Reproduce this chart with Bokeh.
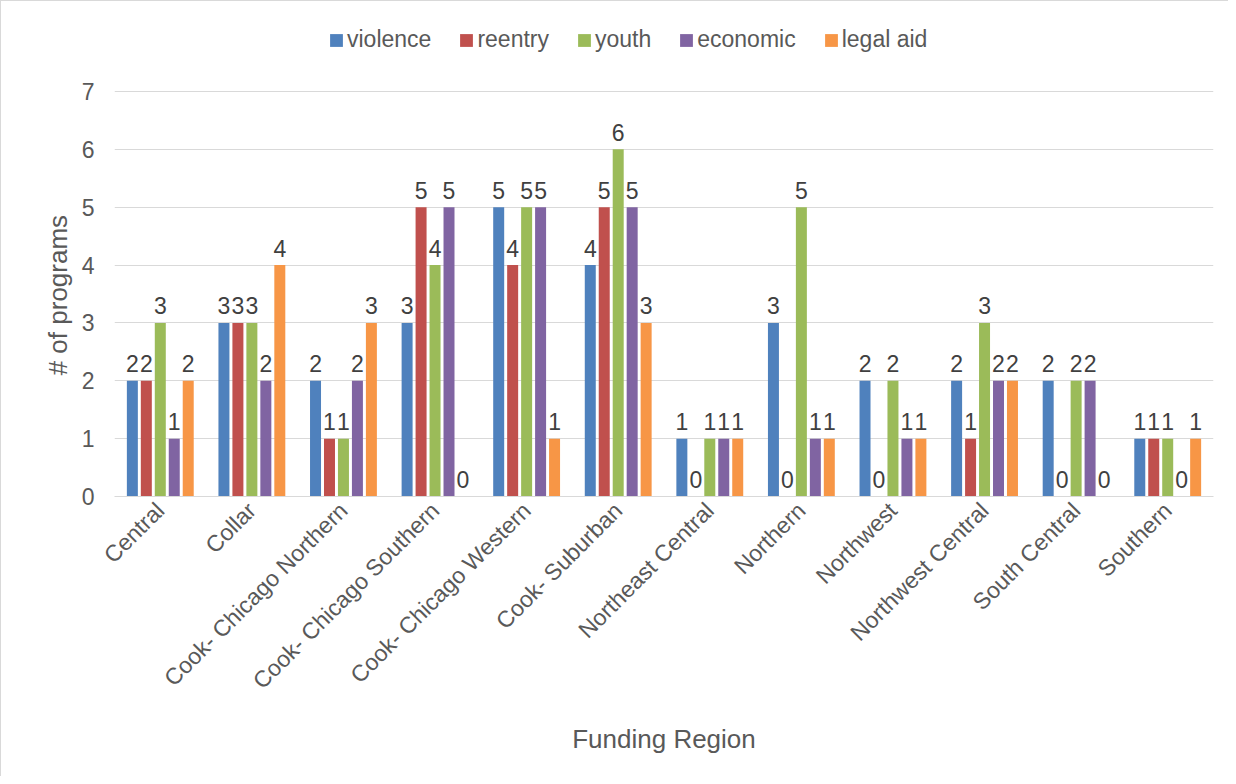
import math
from bokeh.plotting import figure
from bokeh.models import FactorRange, Range1d, FixedTicker, Legend, LegendItem, ColumnDataSource
from bokeh.transform import dodge
from bokeh.core.properties import value
from bokeh.embed import file_html
from bokeh.resources import INLINE

regions = ["Central", "Collar", "Cook- Chicago Northern", "Cook- Chicago Southern",
           "Cook- Chicago Western", "Cook- Suburban", "Northeast Central", "Northern",
           "Northwest", "Northwest Central", "South Central", "Southern"]
violence = [2, 3, 2, 3, 5, 4, 1, 3, 2, 2, 2, 1]
reentry = [2, 3, 1, 5, 4, 5, 0, 0, 0, 1, 0, 1]
youth = [3, 3, 1, 4, 5, 6, 1, 5, 2, 3, 2, 1]
economic = [1, 2, 2, 5, 5, 5, 1, 1, 1, 2, 2, 0]
legal_aid = [2, 4, 3, 0, 1, 3, 1, 1, 1, 2, 0, 1]
series_names = ["violence", "reentry", "youth", "economic", "legal aid"]
series_values = [violence, reentry, youth, economic, legal_aid]
colors = ["#4F81BD", "#C0504D", "#9BBB59", "#8064A2", "#F79646"]
y_ticks = [0, 1, 2, 3, 4, 5, 6, 7]
y_title = "# of programs"
x_title = "Funding Region"

FONT = "Liberation Sans"

data = {"region": regions}
for i, vals in enumerate(series_values):
    data["s%d" % i] = vals
    data["t%d" % i] = [str(v) for v in vals]
source = ColumnDataSource(data)

# frame extends up to hold the legend; axis max 7 sits 70px below the frame top
frame_h = 475
y_top = 7 * frame_h / 405.0

p = figure(x_range=FactorRange(*regions), y_range=Range1d(0, y_top),
           width=1228, height=776, output_backend="svg", toolbar_location=None,
           min_border_left=113, min_border_right=16, min_border_top=20, min_border_bottom=281)
p.styles = {"border-left": "1px solid #d9d9d9", "border-top": "1px solid #d9d9d9"}
p.outline_line_color = None
p.background_fill_color = "white"

pitch = 0.1525
bw = 0.12
items = []
for i, name in enumerate(series_names):
    off = (i - 2) * pitch
    r = p.vbar(x=dodge("region", off, range=p.x_range), top="s%d" % i, width=bw,
               source=source, fill_color=colors[i], line_color=None)
    items.append(LegendItem(label=name, renderers=[r]))
    p.text(x=dodge("region", off, range=p.x_range), y="s%d" % i, text="t%d" % i,
           source=source, text_align="center", text_baseline="alphabetic",
           y_offset=-17, text_font=value(FONT), text_font_size="23px",
           text_color="#404040")

legend = Legend(items=items, orientation="horizontal", location=(214, 443),
                padding=0, margin=0, spacing=27, label_standoff=3,
                glyph_width=16, glyph_height=16, label_height=22,
                label_text_font=FONT, label_text_font_size="23px",
                label_text_color="#595959", border_line_color=None,
                background_fill_alpha=0)
p.add_layout(legend, "center")

p.ygrid.grid_line_color = "#d9d9d9"
p.ygrid.ticker = FixedTicker(ticks=y_ticks)
p.xgrid.grid_line_color = None

p.yaxis.ticker = FixedTicker(ticks=y_ticks)
p.yaxis.axis_line_color = None
p.yaxis.major_tick_line_color = None
p.yaxis.minor_tick_line_color = None
p.yaxis.major_tick_out = 0
p.yaxis.major_label_standoff = 20
p.yaxis.major_label_text_font = FONT
p.yaxis.major_label_text_font_size = "23px"
p.yaxis.major_label_text_color = "#595959"
# trailing no-break spaces keep the title centred on the 0..7 span, not on the taller frame
p.yaxis.axis_label = y_title + "\u00a0" * 10
p.yaxis.axis_label_text_font = FONT
p.yaxis.axis_label_text_font_size = "26px"
p.yaxis.axis_label_text_font_style = "normal"
p.yaxis.axis_label_text_color = "#595959"
p.yaxis.axis_label_standoff = 6

p.xaxis.axis_line_color = "#d9d9d9"
p.xaxis.major_tick_line_color = None
p.xaxis.minor_tick_line_color = None
p.xaxis.major_tick_out = 0
p.xaxis.major_label_orientation = math.pi / 4
p.xaxis.major_label_standoff = 10
p.xaxis.major_label_text_font = FONT
p.xaxis.major_label_text_font_size = "23px"
p.xaxis.major_label_text_color = "#595959"
p.xaxis.axis_label = x_title
p.xaxis.axis_label_text_font = FONT
p.xaxis.axis_label_text_font_size = "26px"
p.xaxis.axis_label_text_font_style = "normal"
p.xaxis.axis_label_text_color = "#595959"
p.xaxis.axis_label_standoff = 18

open("out.html", "w").write(file_html(p, INLINE))
